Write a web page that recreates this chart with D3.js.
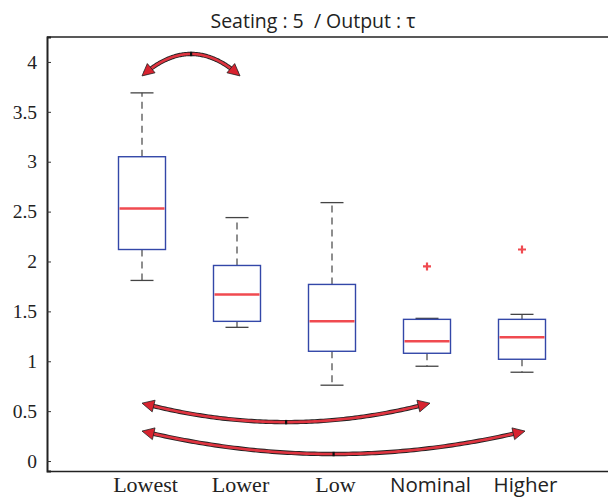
<!DOCTYPE html>
<html>
<head>
<meta charset="utf-8">
<script src="https://cdn.jsdelivr.net/npm/d3@7"></script>
<style>
  body { margin: 0; background: #fff; }
  svg { display: block; }
</style>
</head>
<body>
<svg id="chart" width="608" height="498"></svg>
<script>
// Box statistics per seating level
const categories = ["Lowest", "Lower", "Low", "Nominal", "Higher"];
const whiskerLow  = [1.81, 1.34, 0.76, 0.95, 0.89];
const q1          = [2.12, 1.40, 1.10, 1.08, 1.02];
const median      = [2.53, 1.67, 1.40, 1.20, 1.24];
const q3          = [3.05, 1.96, 1.77, 1.42, 1.42];
const whiskerHigh = [3.69, 2.44, 2.59, 1.43, 1.47];
const outliers    = [[], [], [], [1.95], [2.12]];
const yTicks      = [0, 0.5, 1, 1.5, 2, 2.5, 3, 3.5, 4];
const yTickLabels = ["0", "0.5", "1", "1.5", "2", "2.5", "3", "3.5", "4"];
// Significance arcs between pairs of levels: from, to, level of the arc's extreme point, level of its ends
const arcFrom = ["Lowest", "Lowest", "Lowest"];
const arcTo   = ["Lower", "Nominal", "Higher"];
const arcPeak = [4.08, 0.39, 0.07];
const arcEnd  = [3.86, 0.58, 0.30];

const svg = d3.select("#chart");
const plotLeft = 47, plotRight = 608, plotTop = 37, plotBottom = 471;

const y = d3.scaleLinear().domain([-0.1, 4.25]).range([plotBottom, plotTop]);
const x = d3.scalePoint().domain(categories).range([142, 522]);
const boxW = 47, capW = 23;

// Title
svg.append("text")
  .attr("x", 313).attr("y", 28)
  .attr("text-anchor", "middle")
  .style("font-family", "'Open Sans', sans-serif")
  .style("font-size", "19.5px")
  .attr("fill", "#222")
  .text("Seating : 5\u00A0 / Output : \u03C4");

// Frame: top edge and left/bottom axes
svg.append("line").attr("x1", plotLeft).attr("x2", plotRight).attr("y1", plotTop).attr("y2", plotTop)
  .attr("stroke", "#222").attr("stroke-width", 1.5);

const yAxis = d3.axisLeft(y).tickValues(yTicks).tickSize(-4).tickPadding(10)
  .tickFormat((d, i) => yTickLabels[i]);
const gy = svg.append("g").attr("transform", `translate(${plotLeft},0)`).call(yAxis);
gy.select(".domain").attr("stroke", "#222").attr("stroke-width", 2);
gy.selectAll(".tick line").attr("stroke", "#333");
gy.selectAll(".tick text")
  .style("font-family", "'Liberation Serif', 'Times New Roman', serif")
  .style("font-size", "19.5px").attr("fill", "#222");

const xAxis = d3.axisBottom(x).tickSize(0);
const gx = svg.append("g").attr("transform", `translate(0,${plotBottom})`).call(xAxis);
gx.select(".domain").attr("d", `M${plotLeft},0.5H${plotRight}`).attr("stroke", "#222").attr("stroke-width", 1.5);
gx.selectAll(".tick text")
  .attr("x", 3).attr("y", 21).attr("dy", null)
  .style("font-family", (d, i) => i < 3 ? "'Liberation Serif', serif" : "'Open Sans', sans-serif")
  .style("font-size", (d, i) => i < 3 ? "22px" : "20.5px")
  .attr("fill", "#222");

// Boxes
const boxes = svg.append("g").selectAll("g").data(categories).join("g")
  .attr("transform", d => `translate(${x(d)},0)`);

boxes.append("line")
  .attr("y1", (d, i) => y(q3[i])).attr("y2", (d, i) => y(whiskerHigh[i]))
  .attr("stroke", "#444").attr("stroke-width", 1.2).attr("stroke-dasharray", "7,5");
boxes.append("line")
  .attr("y1", (d, i) => y(q1[i])).attr("y2", (d, i) => y(whiskerLow[i]))
  .attr("stroke", "#444").attr("stroke-width", 1.2).attr("stroke-dasharray", "7,5");
boxes.append("line")
  .attr("x1", -capW / 2).attr("x2", capW / 2)
  .attr("y1", (d, i) => y(whiskerHigh[i])).attr("y2", (d, i) => y(whiskerHigh[i]))
  .attr("stroke", "#444").attr("stroke-width", 1.3);
boxes.append("line")
  .attr("x1", -capW / 2).attr("x2", capW / 2)
  .attr("y1", (d, i) => y(whiskerLow[i])).attr("y2", (d, i) => y(whiskerLow[i]))
  .attr("stroke", "#444").attr("stroke-width", 1.3);
boxes.append("rect")
  .attr("x", -boxW / 2).attr("width", boxW)
  .attr("y", (d, i) => y(q3[i]))
  .attr("height", (d, i) => y(q1[i]) - y(q3[i]))
  .attr("fill", "none").attr("stroke", "#3347a8").attr("stroke-width", 1.4);
boxes.append("line")
  .attr("x1", -boxW / 2 + 1).attr("x2", boxW / 2 - 1)
  .attr("y1", (d, i) => y(median[i])).attr("y2", (d, i) => y(median[i]))
  .attr("stroke", "#f04a50").attr("stroke-width", 2.5);
boxes.each(function (d, i) {
  d3.select(this).selectAll("path.out").data(outliers[i]).join("path")
    .attr("class", "out")
    .attr("d", v => `M-4,${y(v)}H4M0,${y(v) - 4}V${y(v) + 4}`)
    .attr("stroke", "#f04a50").attr("stroke-width", 2.2);
});

// Double-headed curved arrows
function arrowHead(g, tip, from) {
  const a = Math.atan2(tip[1] - from[1], tip[0] - from[0]);
  const L = 12, W = 6;
  const bx = tip[0] - L * Math.cos(a), by = tip[1] - L * Math.sin(a);
  const px = -Math.sin(a) * W, py = Math.cos(a) * W;
  g.append("path")
    .attr("d", `M${tip[0]},${tip[1]}L${bx + px},${by + py}L${bx - px},${by - py}Z`)
    .attr("fill", "#d8232f").attr("stroke", "#222").attr("stroke-width", 0.8)
    .attr("stroke-linejoin", "round");
}
const arcLayer = svg.append("g");
arcFrom.forEach((a, k) => {
  const p0 = [x(a), y(arcEnd[k])];
  const p1 = [x(arcTo[k]) + 3, y(arcEnd[k])];
  const ym = y(arcPeak[k]);
  // Quadratic curve whose midpoint lands on the peak level
  const ctrl = [(p0[0] + p1[0]) / 2, 2 * ym - p0[1]];
  const q = t => [
    (1 - t) * (1 - t) * p0[0] + 2 * (1 - t) * t * ctrl[0] + t * t * p1[0],
    (1 - t) * (1 - t) * p0[1] + 2 * (1 - t) * t * ctrl[1] + t * t * p1[1]
  ];
  const g = arcLayer.append("g");
  const pts = d3.range(0.03, 0.97 + 1e-9, 0.01).map(q);
  const line = d3.line();
  g.append("path").attr("d", line(pts)).attr("fill", "none")
    .attr("stroke", "#222").attr("stroke-width", 4.4);
  g.append("path").attr("d", line(pts)).attr("fill", "none")
    .attr("stroke", "#e03440").attr("stroke-width", 2.6);
  arrowHead(g, p0, q(0.06));
  arrowHead(g, p1, q(0.94));
  const m = q(0.5);
  g.append("rect").attr("x", m[0] - 1).attr("y", m[1] - 2.2).attr("width", 2.2).attr("height", 4.4)
    .attr("fill", "#111");
});
</script>
</body>
</html>
